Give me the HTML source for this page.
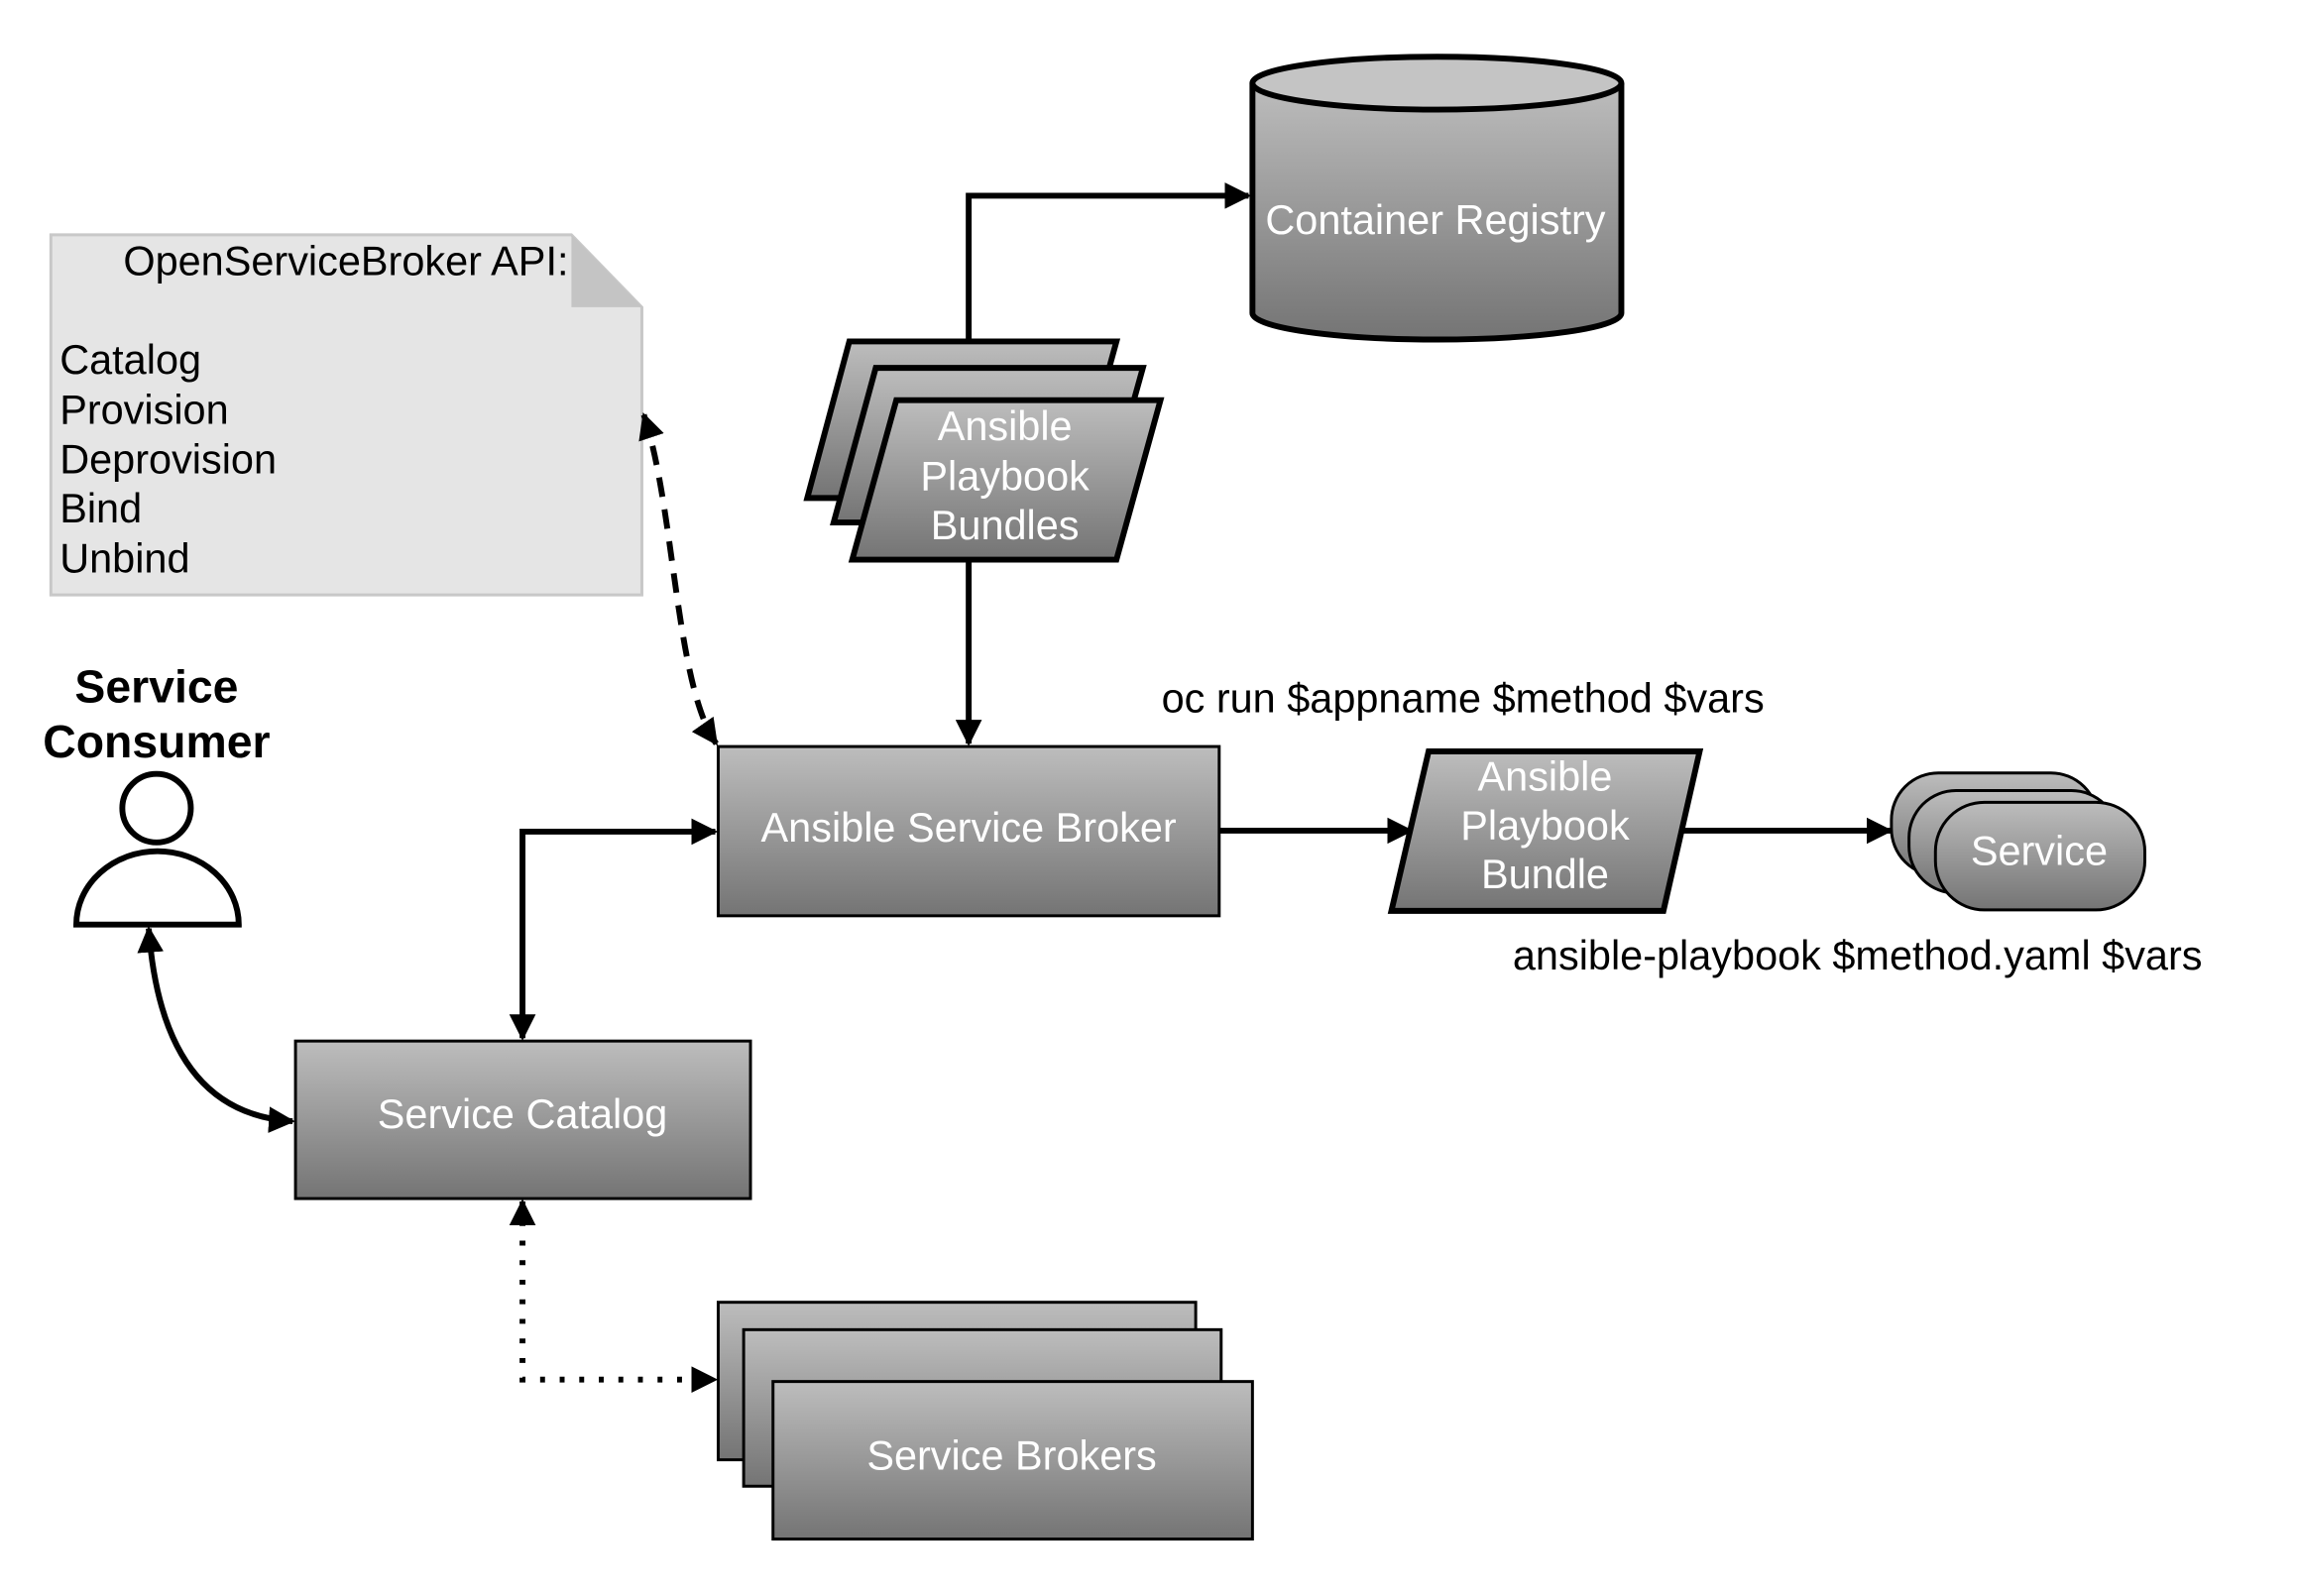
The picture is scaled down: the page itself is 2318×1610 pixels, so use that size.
<!DOCTYPE html>
<html><head><meta charset="utf-8"><style>body{margin:0;background:#fff}svg{display:block}</style></head><body>
<svg width="2318" height="1610" viewBox="0 0 2318 1610" xmlns="http://www.w3.org/2000/svg" font-family="Liberation Sans, sans-serif">
<defs>
<linearGradient id="g" x1="0" y1="0" x2="0" y2="1"><stop offset="0" stop-color="#bdbdbd"/><stop offset="1" stop-color="#747474"/></linearGradient>
<marker id="a" viewBox="0 0 10 10" refX="9" refY="5" markerWidth="4.5" markerHeight="4.5" orient="auto-start-reverse"><path d="M0,0L10,5L0,10z" fill="#000"/></marker>
</defs>
<g transform="scale(0.987)">
<!-- note -->
<path d="M52,240H584L656,314V608H52Z" fill="#e5e5e5" stroke="#c8c8c8" stroke-width="3"/>
<path d="M584,240V314H656Z" fill="#c4c4c4"/>
<g font-size="42" fill="#000">
<text x="126" y="281">OpenServiceBroker API:</text>
<text x="61" y="382">Catalog</text><text x="61" y="433">Provision</text><text x="61" y="484">Deprovision</text><text x="61" y="534">Bind</text><text x="61" y="585">Unbind</text>
</g>
<!-- cylinder -->
<path d="M1280,85V320A188.5,27 0 0 0 1657,320V85" fill="url(#g)" stroke="#000" stroke-width="6"/>
<ellipse cx="1468.5" cy="85" rx="188.5" ry="27" fill="#c4c4c4" stroke="#000" stroke-width="6"/>
<text x="1467" y="239" font-size="42" fill="#fff" text-anchor="middle">Container Registry</text>
<!-- connectors -->
<g stroke="#000" stroke-width="6" fill="none">
<path d="M990,349V200H1276" marker-end="url(#a)"/>
<path d="M990,572V760" marker-end="url(#a)"/>
<path d="M1246,849H1442" marker-end="url(#a)"/>
<path d="M1715,849H1932" marker-end="url(#a)"/>
<path d="M534,1061V850H731" marker-start="url(#a)" marker-end="url(#a)"/>
<path d="M658,424C690,520 690,700 732,760" stroke-dasharray="20,13" marker-start="url(#a)" marker-end="url(#a)"/>
<path d="M534,1228V1410H731" stroke-dasharray="5,15" marker-start="url(#a)" marker-end="url(#a)"/>
<path d="M152,949C160,1060 200,1140 299,1146" stroke-width="6" marker-start="url(#a)" marker-end="url(#a)"/>
</g>
<!-- parallelogram stack -->
<g fill="url(#g)" stroke="#000" stroke-width="6">
<path d="M868,349H1141L1097,509H825Z"/>
<path d="M895,376H1168L1124,534H852Z"/>
<path d="M916,409H1186L1141,572H871Z"/>
<path d="M1460,768H1737L1700,931H1422Z"/>
</g>
<g font-size="42" fill="#fff" text-anchor="middle">
<text x="1027" y="450">Ansible</text><text x="1027" y="501">Playbook</text><text x="1027" y="551">Bundles</text>
<text x="1579" y="808">Ansible</text><text x="1579" y="858">Playbook</text><text x="1579" y="908">Bundle</text>
</g>
<!-- ASB -->
<rect x="734" y="763" width="512" height="173" fill="url(#g)" stroke="#000" stroke-width="3"/>
<text x="990" y="860" font-size="42" fill="#fff" text-anchor="middle">Ansible Service Broker</text>
<text x="1187" y="728" font-size="42">oc run $appname $method $vars</text>
<text x="1546" y="991" font-size="42">ansible-playbook $method.yaml $vars</text>
<!-- services -->
<g fill="url(#g)" stroke="#000" stroke-width="3">
<rect x="1933" y="790" width="211" height="105" rx="48"/>
<rect x="1951" y="808" width="214" height="105" rx="48"/>
<rect x="1978" y="820" width="214" height="110" rx="50"/>
</g>
<text x="2084" y="884" font-size="42" fill="#fff" text-anchor="middle">Service</text>
<!-- consumer -->
<text x="160" y="718" font-size="47" font-weight="bold" text-anchor="middle">Service</text>
<text x="160" y="774" font-size="47" font-weight="bold" text-anchor="middle">Consumer</text>
<circle cx="160" cy="826" r="35" fill="#fff" stroke="#000" stroke-width="6"/>
<path d="M78,945A83,75 0 0 1 244,945Z" fill="#fff" stroke="#000" stroke-width="6"/>
<!-- catalog -->
<rect x="302" y="1064" width="465" height="161" fill="url(#g)" stroke="#000" stroke-width="3"/>
<text x="534" y="1153" font-size="42" fill="#fff" text-anchor="middle">Service Catalog</text>
<!-- brokers -->
<g fill="url(#g)" stroke="#000" stroke-width="3">
<rect x="734" y="1331" width="488" height="161"/>
<rect x="760" y="1359" width="488" height="160"/>
<rect x="790" y="1412" width="490" height="161"/>
</g>
<text x="1034" y="1502" font-size="42" fill="#fff" text-anchor="middle">Service Brokers</text>
</g>
</svg>
</body></html>
